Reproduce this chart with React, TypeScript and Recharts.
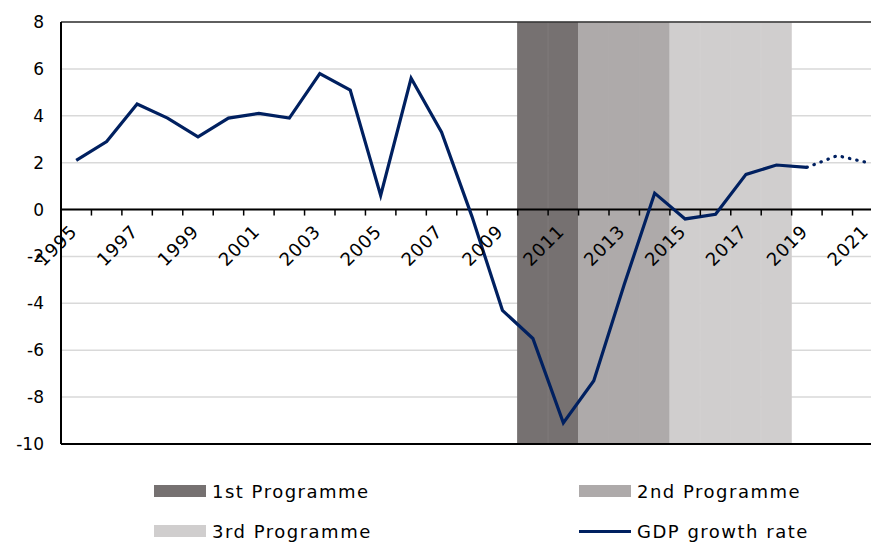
import React from 'react';
import { ComposedChart, Bar, Line, XAxis, YAxis, CartesianGrid, ReferenceLine, Cell } from 'recharts';

const YEARS = [
    '1995', '1996', '1997', '1998', '1999', '2000', '2001', '2002', '2003', '2004',
    '2005', '2006', '2007', '2008', '2009', '2010', '2011', '2012', '2013', '2014',
    '2015', '2016', '2017', '2018', '2019', '2020', '2021',
];

// real GDP growth, % (solid part)
const GDP = [
    2.1, 2.9, 4.5, 3.9, 3.1, 3.9, 4.1, 3.9, 5.8, 5.1,
    0.6, 5.6, 3.3, -0.3, -4.3, -5.5, -9.1, -7.3, -3.2, 0.7,
    -0.4, -0.2, 1.5, 1.9, 1.8, null, null,
];

// forecast part, drawn dotted
const FORECAST = [
    null, null, null, null, null, null, null, null, null, null,
    null, null, null, null, null, null, null, null, null, null,
    null, null, null, null, 1.8, 2.3, 2.0,
];

// which programme was running in each year (1, 2, 3)
const PROGRAMME = [
    null, null, null, null, null, null, null, null, null, null,
    null, null, null, null, null, 1, 1, 2, 2, 2,
    3, 3, 3, 3, null, null, null,
];

const PROGRAMME_NAMES = ['1st Programme', '2nd Programme', '3rd Programme'];
const PROGRAMME_COLORS = ['#767171', '#aeaaaa', '#d0cece'];
const LINE_COLOR = '#002060';

const Y_MIN = -10;
const Y_MAX = 8;
const Y_TICKS = [-10, -8, -6, -4, -2, 0, 2, 4, 6, 8];

const CHART_W = 883;
const CHART_H = 544;
const X_AXIS_H = 1;
const MARGIN = { top: 22, right: 0, bottom: 99, left: 0 };
const Y_AXIS_W = 61;
const PLOT_W = CHART_W - Y_AXIS_W - MARGIN.left - MARGIN.right;
const PLOT_H = CHART_H - MARGIN.top - MARGIN.bottom - X_AXIS_H;
const BAND = PLOT_W / YEARS.length;
const ZERO_Y = MARGIN.top + PLOT_H * (Y_MAX - 0) / (Y_MAX - Y_MIN);

const FONT = '"DejaVu Sans", Verdana, sans-serif';

const data = YEARS.map((year, i) => ({
    year,
    gdp: GDP[i],
    forecast: FORECAST[i],
    programme: PROGRAMME[i],
    span: PROGRAMME[i] ? [Y_MIN, Y_MAX] : null,
}));

// category axis sits on the zero line, ticks between categories
const YearTick = (props: any) => {
    const { x, payload } = props;
    const idx = YEARS.indexOf(String(payload.value));
    const left = x - BAND / 2;
    const ax = x + 2;
    const ay = ZERO_Y + 23;
    return (
        <g>
            <line x1={left} x2={left} y1={ZERO_Y} y2={ZERO_Y + 6} stroke="#000" strokeWidth={1.5} />
            {idx % 2 === 0 && (
                <text
                    x={ax}
                    y={ay}
                    textAnchor="end"
                    transform={`rotate(-45, ${ax}, ${ay})`}
                    fontSize={18}
                    letterSpacing={0.8}
                    fontFamily={FONT}
                    fill="#000"
                >
                    {payload.value}
                </text>
            )}
        </g>
    );
};

const swatch = (color: string) => (
    <span style={{ display: 'inline-block', width: 52, height: 12, background: color, marginRight: 6 }} />
);

const legendItems = [
    { label: PROGRAMME_NAMES[0], icon: swatch(PROGRAMME_COLORS[0]) },
    { label: PROGRAMME_NAMES[1], icon: swatch(PROGRAMME_COLORS[1]) },
    { label: PROGRAMME_NAMES[2], icon: swatch(PROGRAMME_COLORS[2]) },
    {
        label: 'GDP growth rate',
        icon: <span style={{ display: 'inline-block', width: 52, height: 3, background: LINE_COLOR, marginRight: 6 }} />,
    },
];

const App: React.FC = () => {
    return (
        <div style={{ position: 'absolute', left: 0, top: 0, width: 871, height: 544, overflow: 'hidden', background: '#fff' }}>
            <ComposedChart
                width={CHART_W}
                height={CHART_H}
                data={data}
                margin={MARGIN}
                barCategoryGap={0}
                barGap={0}
            >
                <CartesianGrid vertical={false} stroke="#d9d9d9" strokeWidth={1.5} />
                <ReferenceLine y={Y_MAX} stroke="#333" strokeWidth={1.5} />
                <XAxis
                    dataKey="year"
                    interval={0}
                    axisLine={false}
                    tickLine={false}
                    height={X_AXIS_H}
                    tick={<YearTick />}
                />
                <YAxis
                    type="number"
                    domain={[Y_MIN, Y_MAX]}
                    ticks={Y_TICKS}
                    width={Y_AXIS_W}
                    allowDataOverflow
                    axisLine={{ stroke: '#000', strokeWidth: 2 }}
                    tickLine={false}
                    tickSize={0}
                    tickMargin={17}
                    tick={{ fontSize: 17, fontFamily: FONT, fill: '#000' }}
                />
                <Bar dataKey="span" isAnimationActive={false}>
                    {data.map((d, i) => {
                        const c = d.programme ? PROGRAMME_COLORS[d.programme - 1] : 'none';
                        return <Cell key={i} fill={c} stroke={c} strokeWidth={1} />;
                    })}
                </Bar>
                <ReferenceLine y={0} stroke="#000" strokeWidth={2} />
                <ReferenceLine y={Y_MIN} stroke="#000" strokeWidth={2} />
                <Line
                    dataKey="gdp"
                    type="linear"
                    stroke={LINE_COLOR}
                    strokeWidth={3.2}
                    dot={false}
                    activeDot={false}
                    isAnimationActive={false}
                />
                <Line
                    dataKey="forecast"
                    type="linear"
                    stroke={LINE_COLOR}
                    strokeWidth={3.2}
                    strokeDasharray="0.5 7"
                    strokeLinecap="round"
                    dot={false}
                    activeDot={false}
                    isAnimationActive={false}
                />
            </ComposedChart>
            <div
                style={{
                    position: 'absolute',
                    left: 154,
                    top: 471,
                    display: 'grid',
                    gridTemplateColumns: '425px 300px',
                    rowGap: 0,
                    fontFamily: FONT,
                    fontSize: 18,
                    letterSpacing: 1.5,
                    color: '#000',
                }}
            >
                {legendItems.map((item) => (
                    <div key={item.label} style={{ display: 'flex', alignItems: 'center', height: 40, whiteSpace: 'nowrap' }}>
                        {item.icon}
                        <span>{item.label}</span>
                    </div>
                ))}
            </div>
        </div>
    );
};

export default App;
